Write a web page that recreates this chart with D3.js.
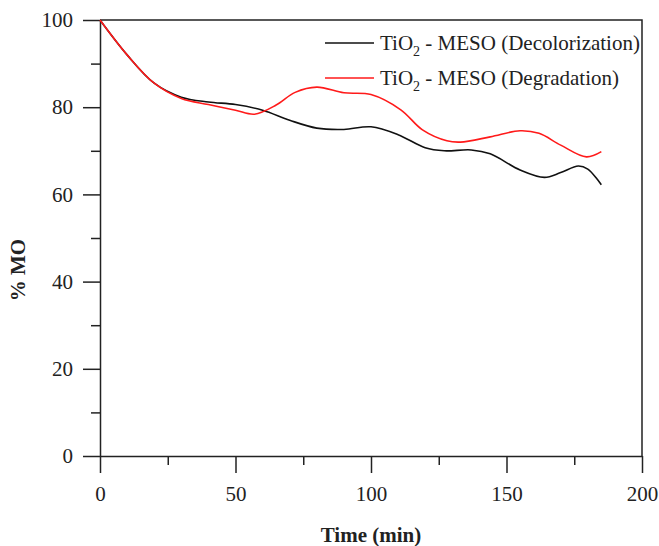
<!DOCTYPE html>
<html>
<head>
<meta charset="utf-8">
<script src="https://cdn.jsdelivr.net/npm/d3@7"></script>
<style>
	body { margin: 0; background: #fff; }
	text { font-family: "Liberation Serif", "Times New Roman", serif; }
</style>
</head>
<body>
<script>
// values
var decolTime = [0, 10, 20, 30, 40, 50, 60, 70, 80, 90, 100, 110, 120, 127, 137, 144, 155, 164, 170, 176.5, 180, 185];
var decolMO   = [100, 92, 85.5, 82.3, 81.2, 80.6, 79.3, 77, 75.2, 74.9, 75.5, 73.7, 70.7, 70, 70.2, 69.3, 65.6, 63.9, 65, 66.5, 65.8, 62.2];

var degTime = [0, 10, 20, 30, 40, 50, 57, 65, 72, 80, 90, 100, 111, 119, 128, 133, 144, 155, 162, 170, 179.5, 185];
var degMO   = [100, 92, 85.5, 82, 80.6, 79.3, 78.4, 80.5, 83.4, 84.6, 83.3, 82.9, 79.4, 74.8, 72.3, 72, 73.2, 74.6, 74, 71.3, 68.6, 69.8];

var xTicks = [0, 50, 100, 150, 200];
var yTicks = [0, 20, 40, 60, 80, 100];
var legendNames = ['Decolorization', 'Degradation'];

var width = 659, height = 546;
var plotLeft = 100, plotRight = 642, plotTop = 20, plotBottom = 456;

var svg = d3.select('body').append('svg')
	.attr('width', width)
	.attr('height', height);

var x = d3.scaleLinear().domain([0, 200]).range([plotLeft, plotRight]);
var y = d3.scaleLinear().domain([0, 100]).range([plotBottom, plotTop]);

// frame (top + right)
svg.append('path')
	.attr('d', 'M' + plotLeft + ',' + plotTop + 'H' + plotRight + 'V' + plotBottom)
	.attr('fill', 'none')
	.attr('stroke', '#222')
	.attr('stroke-width', 1.5);

// minor ticks first
svg.append('g')
	.attr('transform', 'translate(0,' + plotBottom + ')')
	.call(d3.axisBottom(x).tickValues([25, 75, 125, 175]).tickSize(9).tickFormat(''))
	.call(function(g) { g.select('.domain').remove(); })
	.selectAll('line').attr('stroke', '#222').attr('stroke-width', 1.5);

svg.append('g')
	.attr('transform', 'translate(' + plotLeft + ',0)')
	.call(d3.axisLeft(y).tickValues([10, 30, 50, 70, 90]).tickSize(9).tickFormat(''))
	.call(function(g) { g.select('.domain').remove(); })
	.selectAll('line').attr('stroke', '#222').attr('stroke-width', 1.5);

var xAxis = svg.append('g')
	.attr('transform', 'translate(0,' + plotBottom + ')')
	.call(d3.axisBottom(x).tickValues(xTicks).tickSize(17).tickSizeOuter(0).tickPadding(13));
xAxis.select('.domain').attr('stroke', '#222').attr('stroke-width', 1.5);
xAxis.selectAll('line').attr('stroke', '#222').attr('stroke-width', 1.5);
xAxis.selectAll('text').attr('font-size', 21).attr('fill', '#222')
	.style('font-family', '"Liberation Serif", serif');

var yAxis = svg.append('g')
	.attr('transform', 'translate(' + plotLeft + ',0)')
	.call(d3.axisLeft(y).tickValues(yTicks).tickSize(17).tickSizeOuter(0).tickPadding(10));
yAxis.select('.domain').attr('stroke', '#222').attr('stroke-width', 1.5);
yAxis.selectAll('line').attr('stroke', '#222').attr('stroke-width', 1.5);
yAxis.selectAll('text').attr('font-size', 21).attr('fill', '#222')
	.style('font-family', '"Liberation Serif", serif');

// lines
var line = d3.line()
	.x(function(d) { return x(d[0]); })
	.y(function(d) { return y(d[1]); })
	.curve(d3.curveCatmullRom.alpha(0.5));

var decol = decolTime.map(function(t, i) { return [t, decolMO[i]]; });
var deg = degTime.map(function(t, i) { return [t, degMO[i]]; });

svg.append('path')
	.datum(decol)
	.attr('d', line)
	.attr('fill', 'none')
	.attr('stroke', '#111')
	.attr('stroke-width', 1.6);

svg.append('path')
	.datum(deg)
	.attr('d', line)
	.attr('fill', 'none')
	.attr('stroke', '#ff1a1a')
	.attr('stroke-width', 1.6);

// legend
var colors = ['#111', '#ff1a1a'];
legendNames.forEach(function(name, i) {
	var ly = 43 + i * 35;
	svg.append('line')
		.attr('x1', 325).attr('x2', 374)
		.attr('y1', ly).attr('y2', ly)
		.attr('stroke', colors[i])
		.attr('stroke-width', 1.6);
	var t = svg.append('text')
		.attr('x', 380).attr('y', ly + 7)
		.attr('font-size', 21)
		.attr('fill', '#222');
	t.append('tspan').text('TiO');
	t.append('tspan').attr('font-size', 14).attr('dy', 6).text('2');
	t.append('tspan').attr('dy', -6).text(' - MESO (' + name + ')');
});

// axis titles
svg.append('text')
	.attr('x', (plotLeft + plotRight) / 2)
	.attr('y', 542)
	.attr('text-anchor', 'middle')
	.attr('font-size', 21)
	.attr('font-weight', 'bold')
	.attr('fill', '#222')
	.text('Time (min)');

svg.append('text')
	.attr('transform', 'translate(25,' + 270 + ') rotate(-90)')
	.attr('text-anchor', 'middle')
	.attr('font-size', 21)
	.attr('font-weight', 'bold')
	.attr('fill', '#222')
	.text('% MO');
</script>
</body>
</html>
